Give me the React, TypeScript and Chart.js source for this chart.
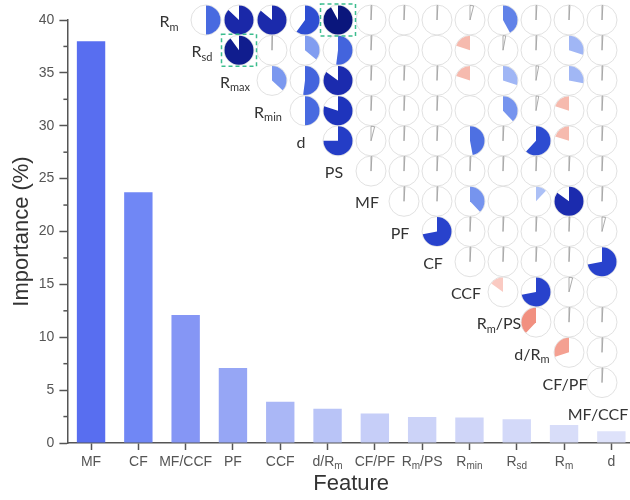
import React, { useEffect, useRef } from 'react';
import { Chart, registerables } from 'chart.js';

Chart.register(...registerables);

// ---------------- data ----------------
const features = ['MF', 'CF', 'MF/CCF', 'PF', 'CCF', 'd/R_m', 'CF/PF', 'R_m/PS', 'R_min', 'R_sd', 'R_m', 'd'];
const importance = [38.0, 23.7, 12.1, 7.1, 3.9, 3.25, 2.8, 2.45, 2.4, 2.25, 1.7, 1.1];
const yTickValues = [0, 5, 10, 15, 20, 25, 30, 35, 40];

const matrixVars = ['R_m', 'R_sd', 'R_max', 'R_min', 'd', 'PS', 'MF', 'PF', 'CF', 'CCF', 'R_m/PS', 'd/R_m', 'CF/PF', 'MF/CCF'];

// upper triangle: row i holds correlations of variable i with variables i+1 ... 13
const corrRm = [0.5, 0.87, 0.86, 0.6, 0.92, 0.01, 0.01, 0.01, 0.04, 0.42, 0.01, 0.01, 0.01];
const corrRsd = [0.9, 0.005, 0.36, 0.52, 0.01, null, null, -0.2, 0.03, 0.01, 0.3, 0.01];
const corrRmax = [0.37, 0.52, 0.85, 0.01, 0.01, 0.01, -0.2, 0.3, 0.03, 0.28, 0.01];
const corrRmin = [0.5, 0.8, 0.01, 0.01, 0.01, null, 0.38, 0.03, -0.2, 0.01];
const corrD = [0.75, 0.04, 0.01, 0.01, 0.47, 0.01, 0.62, -0.2, 0.01];
const corrPS = [0.01, 0.01, 0.01, 0.01, 0.01, 0.01, 0.01, 0.01];
const corrMF = [0.01, 0.01, 0.38, null, 0.12, 0.85, 0.01];
const corrPF = [0.72, 0.01, 0.01, 0.01, 0.01, 0.04];
const corrCF = [0.01, 0.01, 0.01, 0.01, 0.72];
const corrCCF = [-0.15, 0.72, 0.04, null];
const corrRmPS = [-0.38, 0.01, 0.01];
const corrDRm = [-0.3, 0.01];
const corrCFPF = [0.01];
const corrMFCCF: (number | null)[] = [];
const corrRows: (number | null)[][] = [
  corrRm, corrRsd, corrRmax, corrRmin, corrD, corrPS, corrMF, corrPF, corrCF, corrCCF, corrRmPS, corrDRm, corrCFPF, corrMFCCF,
];

// cells marked with a dashed box: [row, column]
const highlightedCells = [[0, 5], [1, 2]];

// ---------------- styles ----------------
const barColors = [
  'rgb(88,110,240)', 'rgb(112,135,245)', 'rgb(133,150,245)', 'rgb(150,166,245)', 'rgb(170,183,246)', 'rgb(185,196,247)',
  'rgb(198,206,248)', 'rgb(204,211,248)', 'rgb(207,213,248)', 'rgb(211,217,249)', 'rgb(216,221,249)', 'rgb(222,226,250)',
];
const SANS = '"Liberation Sans", Arial, sans-serif';
const LABEL_FONT = 'Lato, "Open Sans", sans-serif';
const CELL_R = 15;

const posStops: [number, number[]][] = [
  [0, [232, 238, 252]], [0.12, [172, 192, 246]], [0.3, [160, 182, 245]], [0.38, [118, 148, 238]], [0.45, [82, 116, 228]],
  [0.5, [72, 106, 224]], [0.6, [46, 78, 210]], [0.72, [40, 66, 204]], [0.8, [30, 52, 188]], [0.87, [26, 40, 168]],
  [0.92, [10, 22, 124]], [1, [5, 10, 100]],
];
const negStops: [number, number[]][] = [
  [0, [252, 232, 228]], [0.15, [250, 202, 194]], [0.2, [246, 186, 174]], [0.3, [244, 160, 145]], [0.4, [240, 140, 124]], [1, [200, 40, 40]],
];

function colorFor(v: number) {
  const stops = v >= 0 ? posStops : negStops;
  const a = Math.abs(v);
  for (let k = 0; k < stops.length - 1; k++) {
    const [t0, c0] = stops[k];
    const [t1, c1] = stops[k + 1];
    if (a >= t0 && a <= t1) {
      const f = (a - t0) / (t1 - t0);
      const c = c0.map((ch, n) => Math.round(ch + (c1[n] - ch) * f));
      return `rgb(${c[0]},${c[1]},${c[2]})`;
    }
  }
  const c = stops[stops.length - 1][1];
  return `rgb(${c[0]},${c[1]},${c[2]})`;
}

function segments(label: string) {
  const segs: { t: string; sub: boolean }[] = [];
  let cur = '';
  let sub = false;
  for (const ch of label) {
    if (ch === '_') {
      if (cur) segs.push({ t: cur, sub });
      cur = '';
      sub = true;
      continue;
    }
    if (sub && !/[a-z]/.test(ch)) {
      if (cur) segs.push({ t: cur, sub });
      cur = '';
      sub = false;
    }
    cur += ch;
  }
  if (cur) segs.push({ t: cur, sub });
  return segs;
}

function drawRich(ctx: CanvasRenderingContext2D, label: string, cx: number, cy: number, size: number, family: string, color: string) {
  const segs = segments(label);
  const subSize = Math.round(size * 0.68);
  let total = 0;
  const widths = segs.map((s) => {
    ctx.font = `${s.sub ? subSize : size}px ${family}`;
    const w = ctx.measureText(s.t).width;
    total += w;
    return w;
  });
  let x = cx - total / 2;
  ctx.fillStyle = color;
  ctx.textAlign = 'left';
  ctx.textBaseline = 'middle';
  segs.forEach((s, k) => {
    ctx.font = `${s.sub ? subSize : size}px ${family}`;
    ctx.fillText(s.t, x, cy + (s.sub ? size * 0.32 : 0));
    x += widths[k];
  });
}

const overlayPlugin = {
  id: 'overlay',
  afterDatasetsDraw(chart: any) {
    const { ctx, chartArea } = chart;
    const xs = chart.scales.x;
    const ys = chart.scales.y;
    const mx = chart.scales.mx;
    const my = chart.scales.my;
    ctx.save();

    // minor y ticks
    ctx.strokeStyle = '#555';
    ctx.lineWidth = 1.5;
    for (let k = 0; k < yTickValues.length - 1; k++) {
      const py = ys.getPixelForValue((yTickValues[k] + yTickValues[k + 1]) / 2);
      ctx.beginPath();
      ctx.moveTo(chartArea.left - 4, py);
      ctx.lineTo(chartArea.left, py);
      ctx.stroke();
    }

    // x tick labels with subscripts
    features.forEach((f, i) => {
      drawRich(ctx, f, xs.getPixelForValue(i), xs.top + 19, 14, SANS, '#555');
    });

    // pie wedges
    corrRows.forEach((row, i) => {
      row.forEach((v, k) => {
        if (v === null) return;
        const j = i + 1 + k;
        const cx = mx.getPixelForValue(j);
        const cy = my.getPixelForValue(i);
        const r = CELL_R - 0.5;
        const start = -Math.PI / 2;
        const end = start + 2 * Math.PI * v;
        ctx.beginPath();
        ctx.moveTo(cx, cy);
        ctx.arc(cx, cy, r, start, end, v < 0);
        ctx.closePath();
        if (Math.abs(v) < 0.08) {
          ctx.strokeStyle = '#a2a2a2';
          ctx.lineWidth = 0.9;
          ctx.stroke();
        } else {
          ctx.fillStyle = colorFor(v);
          ctx.fill();
        }
      });
    });

    // diagonal labels
    matrixVars.forEach((name, i) => {
      drawRich(ctx, name, mx.getPixelForValue(i) - 4, my.getPixelForValue(i) + 2, 16, LABEL_FONT, '#333');
    });

    // highlighted cells
    ctx.strokeStyle = '#3dbd8e';
    ctx.lineWidth = 1.5;
    ctx.setLineDash([4, 3]);
    highlightedCells.forEach(([ri, ci]) => {
      const cx = mx.getPixelForValue(ci);
      const cy = my.getPixelForValue(ri);
      ctx.strokeRect(cx - 17.5, cy - 16, 35, 32);
    });
    ctx.setLineDash([]);
    ctx.restore();
  },
};

export default function App() {
  const canvasRef = useRef<HTMLCanvasElement | null>(null);

  useEffect(() => {
    document.body.style.margin = '0';
    document.body.style.overflow = 'hidden';
    document.documentElement.style.overflow = 'hidden';
    const canvas = canvasRef.current;
    if (!canvas) return;

    const cells: { x: number; y: number }[] = [];
    corrRows.forEach((row, i) => row.forEach((_, k) => cells.push({ x: i + 1 + k, y: i })));

    const chart = new Chart(canvas, {
      type: 'bar',
      data: {
        labels: features,
        datasets: [
          {
            type: 'bar',
            data: importance,
            backgroundColor: barColors,
            borderWidth: 0,
            barPercentage: 0.6,
            categoryPercentage: 1,
            grouped: false,
            xAxisID: 'x',
            yAxisID: 'y',
          } as any,
          {
            type: 'scatter',
            data: cells,
            xAxisID: 'mx',
            yAxisID: 'my',
            pointRadius: CELL_R,
            pointHoverRadius: CELL_R,
            pointBackgroundColor: 'rgba(0,0,0,0)',
            pointBorderColor: '#dedede',
            pointBorderWidth: 0.9,
            showLine: false,
            clip: false,
          } as any,
        ],
      },
      options: {
        responsive: false,
        maintainAspectRatio: false,
        devicePixelRatio: 1,
        animation: false,
        events: [],
        layout: { autoPadding: false, padding: { top: 20, left: 6, right: 1, bottom: 0 } },
        plugins: { legend: { display: false }, tooltip: { enabled: false } },
        scales: {
          x: {
            type: 'category',
            offset: true,
            grid: { offset: false, drawOnChartArea: false, drawTicks: true, tickLength: 7, tickColor: '#555', tickWidth: 1.5 },
            border: { color: '#555', width: 1.5 },
            ticks: { color: 'rgba(0,0,0,0)', font: { size: 14, family: SANS }, maxRotation: 0, autoSkip: false },
            title: { display: true, text: 'Feature', color: '#333', font: { size: 22, family: SANS }, padding: { top: 0, bottom: 3 } },
            afterFit: (s: any) => {
              s.height = 57;
              s.paddingLeft = 0;
              s.paddingRight = 0;
            },
          },
          y: {
            min: 0,
            max: 40,
            afterBuildTicks: (s: any) => {
              s.ticks = yTickValues.map((v) => ({ value: v }));
            },
            grid: { drawOnChartArea: false, drawTicks: true, tickLength: 8, tickColor: '#555', tickWidth: 1.5 },
            border: { color: '#555', width: 1.5 },
            ticks: { color: '#555', font: { size: 14, family: SANS }, padding: 5 },
            title: { display: true, text: 'Importance (%)', color: '#333', font: { size: 22, family: SANS }, padding: { top: 3, bottom: 0 } },
            afterFit: (s: any) => {
              s.width = 61.4;
            },
          },
          mx: { type: 'linear', axis: 'x', position: 'bottom', display: false, offset: false, grid: { offset: false }, min: -3.2, max: 14.0 },
          my: { type: 'linear', axis: 'y', position: 'left', display: false, offset: false, reverse: true, min: 0, max: 14.0 },
        } as any,
      },
      plugins: [overlayPlugin],
    });
    return () => chart.destroy();
  }, []);

  return (
    <div style={{ width: 636, height: 500, position: 'relative' }}>
      <canvas ref={canvasRef} width={636} height={500} style={{ display: 'block' }} />
    </div>
  );
}
